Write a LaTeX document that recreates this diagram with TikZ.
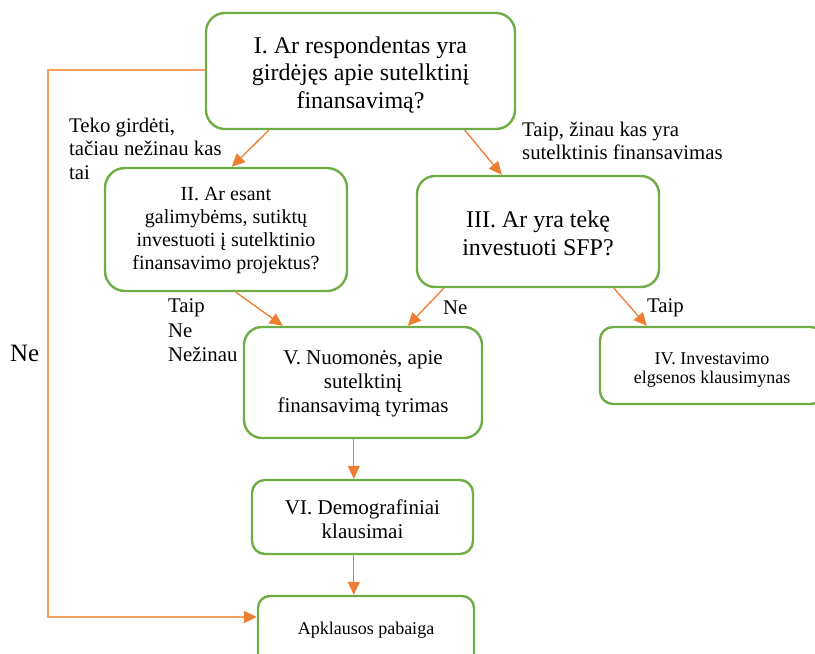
\documentclass[tikz,border=0pt]{standalone}
\usepackage{fontspec}
\setmainfont{Liberation Serif}
\usetikzlibrary{arrows.meta}
\definecolor{boxgreen}{HTML}{70AD47}
\definecolor{arrorange}{HTML}{ED7D31}
\definecolor{looporange}{HTML}{F4A065}
% text sizes used in the flowchart
\newcommand\szXL{\fontsize{24pt}{27.8pt}\selectfont}
\newcommand\szL{\fontsize{21pt}{24.2pt}\selectfont}
\newcommand\szM{\fontsize{20pt}{23pt}\selectfont}
\newcommand\szS{\fontsize{18pt}{19pt}\selectfont}
\newcommand\szLab{\fontsize{20.8pt}{23.6pt}\selectfont}
\begin{document}
\begin{tikzpicture}[x=1pt,y=-1pt,
  qbox/.style={draw=boxgreen, line width=2.4pt, rounded corners=#1, inner sep=0pt},
  txt/.style={inner sep=0pt, align=center},
  lab/.style={inner sep=0pt, align=left, font=\szLab},
  arr/.style={draw=arrorange, line width=1.3pt, -{Triangle[length=13pt,width=12pt]}},
  looparr/.style={draw=looporange, line width=1.5pt, -{Triangle[length=13pt,width=12pt,color=arrorange]}}
]
\useasboundingbox (0,0) rectangle (815,654);

% question boxes
\node[qbox=19pt, minimum width=309pt, minimum height=116pt] (I)   at (360.5,71)  {};
\node[qbox=20pt, minimum width=242pt, minimum height=123pt] (II)  at (226,229.5) {};
\node[qbox=18pt, minimum width=242pt, minimum height=111pt] (III) at (538,231.5) {};
\node[qbox=13pt, minimum width=224pt, minimum height=77pt]  (IV)  at (712,365.5) {};
\node[qbox=18pt, minimum width=238pt, minimum height=111pt] (V)   at (363,382.5) {};
\node[qbox=13pt, minimum width=221pt, minimum height=74pt]  (VI)  at (362.5,517) {};
\node[qbox=12pt, minimum width=216pt, minimum height=71pt]  (END) at (366,631.5) {};

% box texts
\node[txt, font=\szXL] (It) at ([yshift=-4pt]I.center)
  {I. Ar respondentas yra\\girdėjęs apie sutelktinį\\finansavimą?};
\node[txt, font=\szM] (IIt) at ([yshift=-1.5pt]II.center)
  {II. Ar esant\\galimybėms, sutiktų\\investuoti į sutelktinio\\finansavimo projektus?};
\node[txt, font=\szXL] (IIIt) at ([yshift=-2pt]III.center)
  {III. Ar yra tekę\\investuoti SFP?};
\node[txt, font=\szS] (IVt) at ([yshift=-4.5pt]IV.center)
  {IV. Investavimo\\elgsenos klausimynas};
\node[txt, font=\szL] (Vt) at ([yshift=-1.5pt]V.center)
  {V. Nuomonės, apie\\sutelktinį\\finansavimą tyrimas};
\node[txt, font=\szL] (VIt) at ([yshift=-2pt]VI.center)
  {VI. Demografiniai\\klausimai};
\node[txt, font=\szS] (ENDt) at ([yshift=1.5pt]END.center)
  {Apklausos pabaiga};

% answer labels
\node[lab, anchor=north west] (l1) at (69,117.5)
  {Teko girdėti,\\tačiau nežinau kas\\tai};
\node[lab, anchor=north west] (l2) at (522,121.5)
  {Taip, žinau kas yra\\sutelktinis finansavimas};
\node[lab, anchor=north west, font=\fontsize{20.8pt}{24.3pt}\selectfont] (l3) at (168,299)
  {Taip\\Ne\\Nežinau};
\node[lab, anchor=base west] (l4) at (443,314) {Ne};
\node[lab, anchor=base west] (l5) at (647,312) {Taip};
\node[inner sep=0pt, anchor=base west, font=\fontsize{25pt}{30pt}\selectfont] (l6) at (10,361) {Ne};

% connectors
\coordinate (rail) at (48,0);
\draw[arr] ([xshift=64pt]I.south west)   -- ([xshift=128pt]II.north west);
\draw[arr] ([xshift=260pt]I.south west)  -- ([xshift=86pt]III.north west);
\draw[arr] ([xshift=132pt]II.south west) -- ([xshift=40pt]V.north west);
\draw[arr] ([xshift=28pt]III.south west) -- ([xshift=165pt]V.north west);
\draw[arr] ([xshift=198pt]III.south west) -- ([xshift=48pt]IV.north west);
\draw[arr] ([xshift=111pt]V.south west)  -- ([xshift=103pt]VI.north west);
\draw[arr] ([xshift=103pt]VI.south west) -- ([xshift=97pt]END.north west);
\draw[looparr] ([yshift=1pt]I.west) -- ([yshift=1pt]I.west -| rail)
  |- ([yshift=14.5pt]END.west);
\end{tikzpicture}
\end{document}
